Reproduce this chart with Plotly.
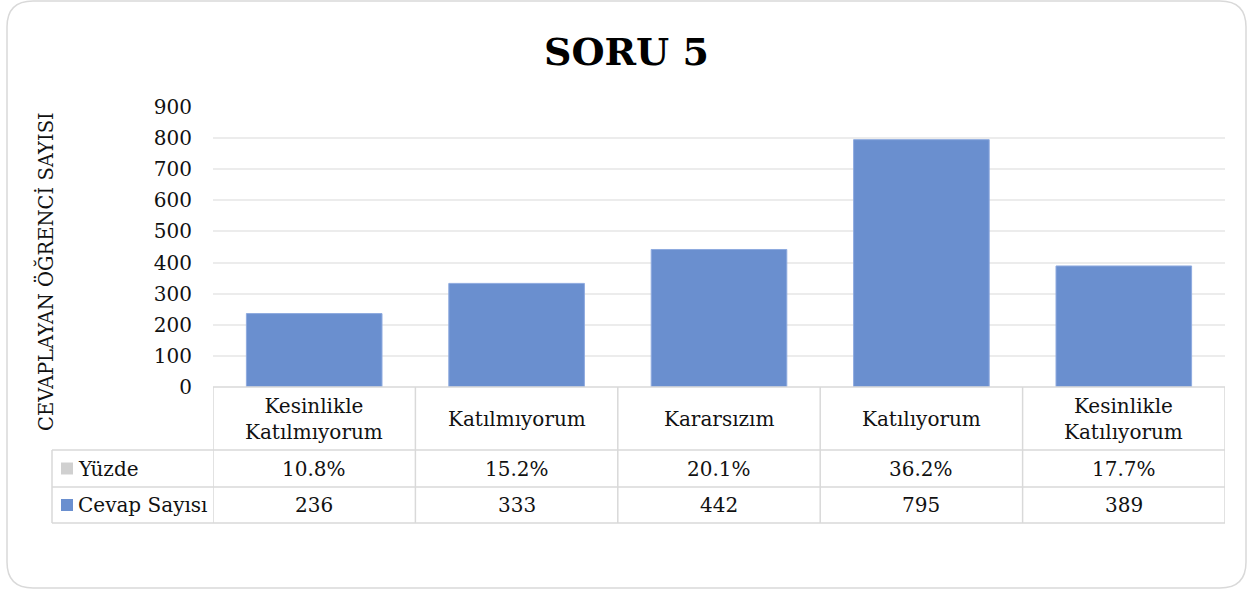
import plotly.graph_objects as go

# ---- data ----
categories = ["Kesinlikle<br>Katılmıyorum", "Katılmıyorum", "Kararsızım", "Katılıyorum", "Kesinlikle<br>Katılıyorum"]
cevap_sayisi = [236, 333, 442, 795, 389]
yuzde = ["10.8%", "15.2%", "20.1%", "36.2%", "17.7%"]
series_names = ["Yüzde", "Cevap Sayısı"]
title_text = "SORU 5"
y_title = "CEVAPLAYAN ÖĞRENCİ SAYISI"
y_ticks = list(range(0, 1000, 100))

# ---- layout helpers ----
W, H = 1253, 592
FONT = "DejaVu Serif"
BAR = "#6a8fcf"
GRID = "#ececec"
TLINE = "#d9d9d9"

def px(x):
    return x / W

def py(y):
    return 1 - y / H

xs = list(range(len(categories)))

fig = go.Figure()
fig.add_trace(go.Bar(
    x=xs, y=cevap_sayisi, width=0.67, name=series_names[1],
    marker=dict(color=BAR, line=dict(color="#8eaadf", width=1)),
    showlegend=False, hoverinfo="y"))

plot_l, plot_r, plot_b, plot_t = 213, 1225, 387, 107
row1_b, row2_b, row3_b = 450, 487, 523
leg_l = 52

shapes = []
# outer rounded border
l, r, t, b, rad = 7, 1246, 1, 588, 26
path = (f"M {px(l)},{py(t+rad)} Q {px(l)},{py(t)} {px(l+rad)},{py(t)} "
        f"L {px(r-rad)},{py(t)} Q {px(r)},{py(t)} {px(r)},{py(t+rad)} "
        f"L {px(r)},{py(b-rad)} Q {px(r)},{py(b)} {px(r-rad)},{py(b)} "
        f"L {px(l+rad)},{py(b)} Q {px(l)},{py(b)} {px(l)},{py(b-rad)} Z")
shapes.append(dict(type="path", xref="paper", yref="paper", path=path,
                   line=dict(color="#d9d9d9", width=1.5), layer="below"))
# table horizontal lines
shapes.append(dict(type="line", xref="paper", yref="paper", x0=px(plot_l), x1=px(plot_r),
                   y0=py(plot_b), y1=py(plot_b), line=dict(color=TLINE, width=1.5)))
for yy in (row1_b, row2_b, row3_b):
    shapes.append(dict(type="line", xref="paper", yref="paper", x0=px(leg_l), x1=px(plot_r),
                       y0=py(yy), y1=py(yy), line=dict(color=TLINE, width=1.5)))
# table vertical lines (at category boundaries)
for i in range(len(categories) + 1):
    shapes.append(dict(type="line", xref="x", yref="paper", x0=i - 0.5, x1=i - 0.5,
                       y0=py(plot_b), y1=py(row3_b), line=dict(color=TLINE, width=1.5)))
shapes.append(dict(type="line", xref="paper", yref="paper", x0=px(leg_l), x1=px(leg_l),
                   y0=py(row1_b), y1=py(row3_b), line=dict(color=TLINE, width=1.5)))
# legend keys
key_colors = ["#d0d0d0", BAR]
row_centers = [(row1_b + row2_b) / 2, (row2_b + row3_b) / 2]
for c, yc in zip(key_colors, row_centers):
    shapes.append(dict(type="rect", xref="paper", yref="paper", x0=px(61), x1=px(73),
                       y0=py(yc + 6), y1=py(yc - 6), fillcolor=c, line=dict(width=0)))

annotations = []
hdr_c = (plot_b + row1_b) / 2
cell_font = dict(family=FONT, size=20, color="#111")
for i, cat in enumerate(categories):
    annotations.append(dict(x=i, xref="x", y=py(hdr_c), yref="paper", text=cat, showarrow=False,
                            xanchor="center", yanchor="middle", font=cell_font, align="center"))
    annotations.append(dict(x=i, xref="x", y=py(row_centers[0]), yref="paper", text=yuzde[i],
                            xanchor="center", yanchor="middle", showarrow=False, font=cell_font))
    annotations.append(dict(x=i, xref="x", y=py(row_centers[1]), yref="paper", text=str(cevap_sayisi[i]),
                            xanchor="center", yanchor="middle", showarrow=False, font=cell_font))
for name, yc in zip(series_names, row_centers):
    annotations.append(dict(x=px(76), xref="paper", xanchor="left", y=py(yc), yref="paper",
                            yanchor="middle", text=name, showarrow=False, font=cell_font))
# title
annotations.append(dict(x=0.5, xref="paper", xanchor="center", y=py(52), yref="paper", yanchor="middle",
                        text=f"<b>{title_text}</b>", showarrow=False,
                        font=dict(family=FONT, size=38, color="#000")))
# y-axis title
annotations.append(dict(x=px(45), xref="paper", xanchor="center", y=py(272), yref="paper",
                        yanchor="middle", text=y_title, textangle=-90,
                        showarrow=False, font=dict(family=FONT, size=19.5, color="#111")))

fig.update_layout(
    width=W, height=H, margin=dict(l=0, r=0, t=0, b=0, autoexpand=False),
    paper_bgcolor="white", plot_bgcolor="white",
    xaxis=dict(domain=[px(plot_l), px(plot_r)], range=[-0.5, len(categories) - 0.5],
               showticklabels=False, showgrid=False, zeroline=False, showline=False,
               fixedrange=True, automargin=False),
    yaxis=dict(domain=[py(plot_b), py(plot_t)], range=[0, 900], tickvals=y_ticks,
               showgrid=True, gridcolor=GRID, gridwidth=1.5, zeroline=False, showline=False,
               tickfont=dict(family=FONT, size=20, color="#111"), ticklabelstandoff=20,
               fixedrange=True, automargin=False),
    shapes=shapes, annotations=annotations, bargap=0.33, showlegend=False,
)

fig.write_html("out.html", config={"displayModeBar": False},
               post_script="document.body.style.margin='0';")
